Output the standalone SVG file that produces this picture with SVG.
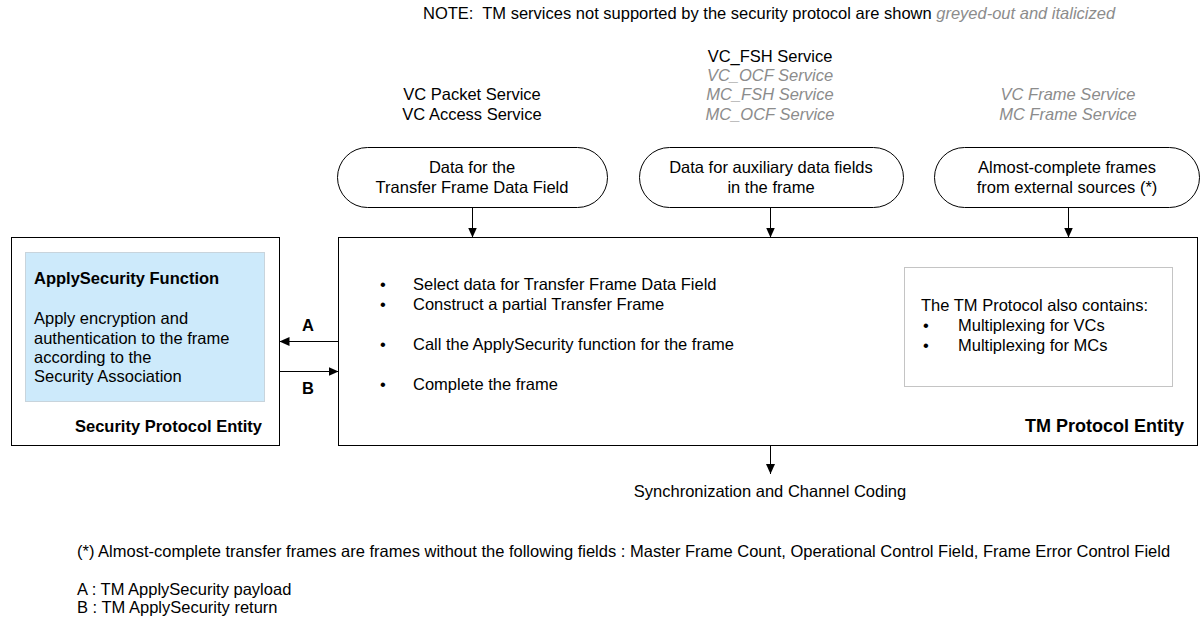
<svg xmlns="http://www.w3.org/2000/svg" width="1202" height="620" viewBox="0 0 1202 620">
<style>
text{font-family:"Liberation Sans",Arial,sans-serif;font-size:16.5px;fill:#000}
.b{font-weight:bold}
.g{fill:#8c8c8c;font-style:italic}
.c{text-anchor:middle}
.r{text-anchor:end}
.box{fill:#fff;stroke:#000;stroke-width:1}
.pill{fill:#fff;stroke:#000;stroke-width:1}
.ln{stroke:#000;stroke-width:1;fill:none}
</style>
<defs>
<marker id="ah" markerUnits="userSpaceOnUse" markerWidth="10" markerHeight="9" refX="10" refY="4.5" orient="auto">
<path d="M0,0 L10,4.5 L0,9 z" fill="#000"/>
</marker>
</defs>
<rect width="1202" height="620" fill="#fff"/>

<g id="note">
<text x="423" y="18.5" style="white-space:pre">NOTE:  TM services not supported by the security protocol are shown <tspan class="g">greyed-out and italicized</tspan></text>
</g>

<g id="services">
<text class="c" x="472" y="100">VC Packet Service</text>
<text class="c" x="472" y="119.5">VC Access Service</text>
<text class="c" x="770" y="61.5">VC_FSH Service</text>
<text class="c g" x="770" y="81">VC_OCF Service</text>
<text class="c g" x="770" y="100">MC_FSH Service</text>
<text class="c g" x="770" y="119.5">MC_OCF Service</text>
<text class="c g" x="1068" y="100">VC Frame Service</text>
<text class="c g" x="1068" y="119.5">MC Frame Service</text>
</g>

<g id="src1">
<rect class="pill" x="337.5" y="147.5" width="270" height="60" rx="30" ry="30"/>
<text class="c" x="472" y="173">Data for the</text>
<text class="c" x="472" y="192.5">Transfer Frame Data Field</text>
</g>
<g id="src2">
<rect class="pill" x="639.5" y="147.5" width="264" height="60" rx="30" ry="30"/>
<text class="c" x="771" y="173">Data for auxiliary data fields</text>
<text class="c" x="771" y="192.5">in the frame</text>
</g>
<g id="src3">
<rect class="pill" x="934.5" y="147.5" width="265" height="60" rx="30" ry="30"/>
<text class="c" x="1067" y="173">Almost-complete frames</text>
<text class="c" x="1067" y="192.5">from external sources (*)</text>
</g>

<g id="sec">
<rect class="box" x="11.5" y="237.5" width="268" height="208"/>
<rect x="25.5" y="252.5" width="239" height="149" fill="#cdeafb" stroke="#c8d4dc" stroke-width="1"/>
<text class="b" x="34" y="283.5">ApplySecurity Function</text>
<text x="34" y="324">Apply encryption and</text>
<text x="34" y="343.5">authentication to the frame</text>
<text x="34" y="362.5">according to the</text>
<text x="34" y="382">Security Association</text>
<text class="b r" x="262" y="432">Security Protocol Entity</text>
</g>

<g id="tm">
<rect class="box" x="338.5" y="237.5" width="859" height="208"/>
<text x="380" y="289.5">•</text><text x="413" y="289.5">Select data for Transfer Frame Data Field</text>
<text x="380" y="309.5">•</text><text x="413" y="309.5">Construct a partial Transfer Frame</text>
<text x="380" y="349.5">•</text><text x="413" y="349.5">Call the ApplySecurity function for the frame</text>
<text x="380" y="389.5">•</text><text x="413" y="389.5">Complete the frame</text>
<rect x="904.5" y="267.5" width="268" height="119" fill="#fff" stroke="#c4c4c4" stroke-width="1"/>
<text x="921" y="311">The TM Protocol also contains:</text>
<text x="923" y="331">•</text><text x="958" y="331">Multiplexing for VCs</text>
<text x="923" y="351">•</text><text x="958" y="351">Multiplexing for MCs</text>
<text class="b r" x="1184" y="432" style="font-size:18px">TM Protocol Entity</text>
</g>

<g id="connectors">
<line class="ln" x1="472.5" y1="207.5" x2="472.5" y2="237.5" marker-end="url(#ah)"/>
<line class="ln" x1="770.5" y1="207.5" x2="770.5" y2="237.5" marker-end="url(#ah)"/>
<line class="ln" x1="1068.5" y1="207.5" x2="1068.5" y2="237.5" marker-end="url(#ah)"/>
<line class="ln" x1="338.5" y1="341.5" x2="279.5" y2="341.5" marker-end="url(#ah)"/>
<line class="ln" x1="279.5" y1="371.5" x2="338.5" y2="371.5" marker-end="url(#ah)"/>
<line class="ln" x1="770.5" y1="445.5" x2="770.5" y2="474" marker-end="url(#ah)"/>
<text class="b c" x="308" y="331">A</text>
<text class="b c" x="308" y="394">B</text>
</g>

<g id="output">
<text class="c" x="770" y="497">Synchronization and Channel Coding</text>
</g>

<g id="footnotes">
<text x="77" y="557">(*) Almost-complete transfer frames are frames without the following fields : Master Frame Count, Operational Control Field, Frame Error Control Field</text>
<text x="77" y="595">A : TM ApplySecurity payload</text>
<text x="77" y="613">B : TM ApplySecurity return</text>
</g>
</svg>
